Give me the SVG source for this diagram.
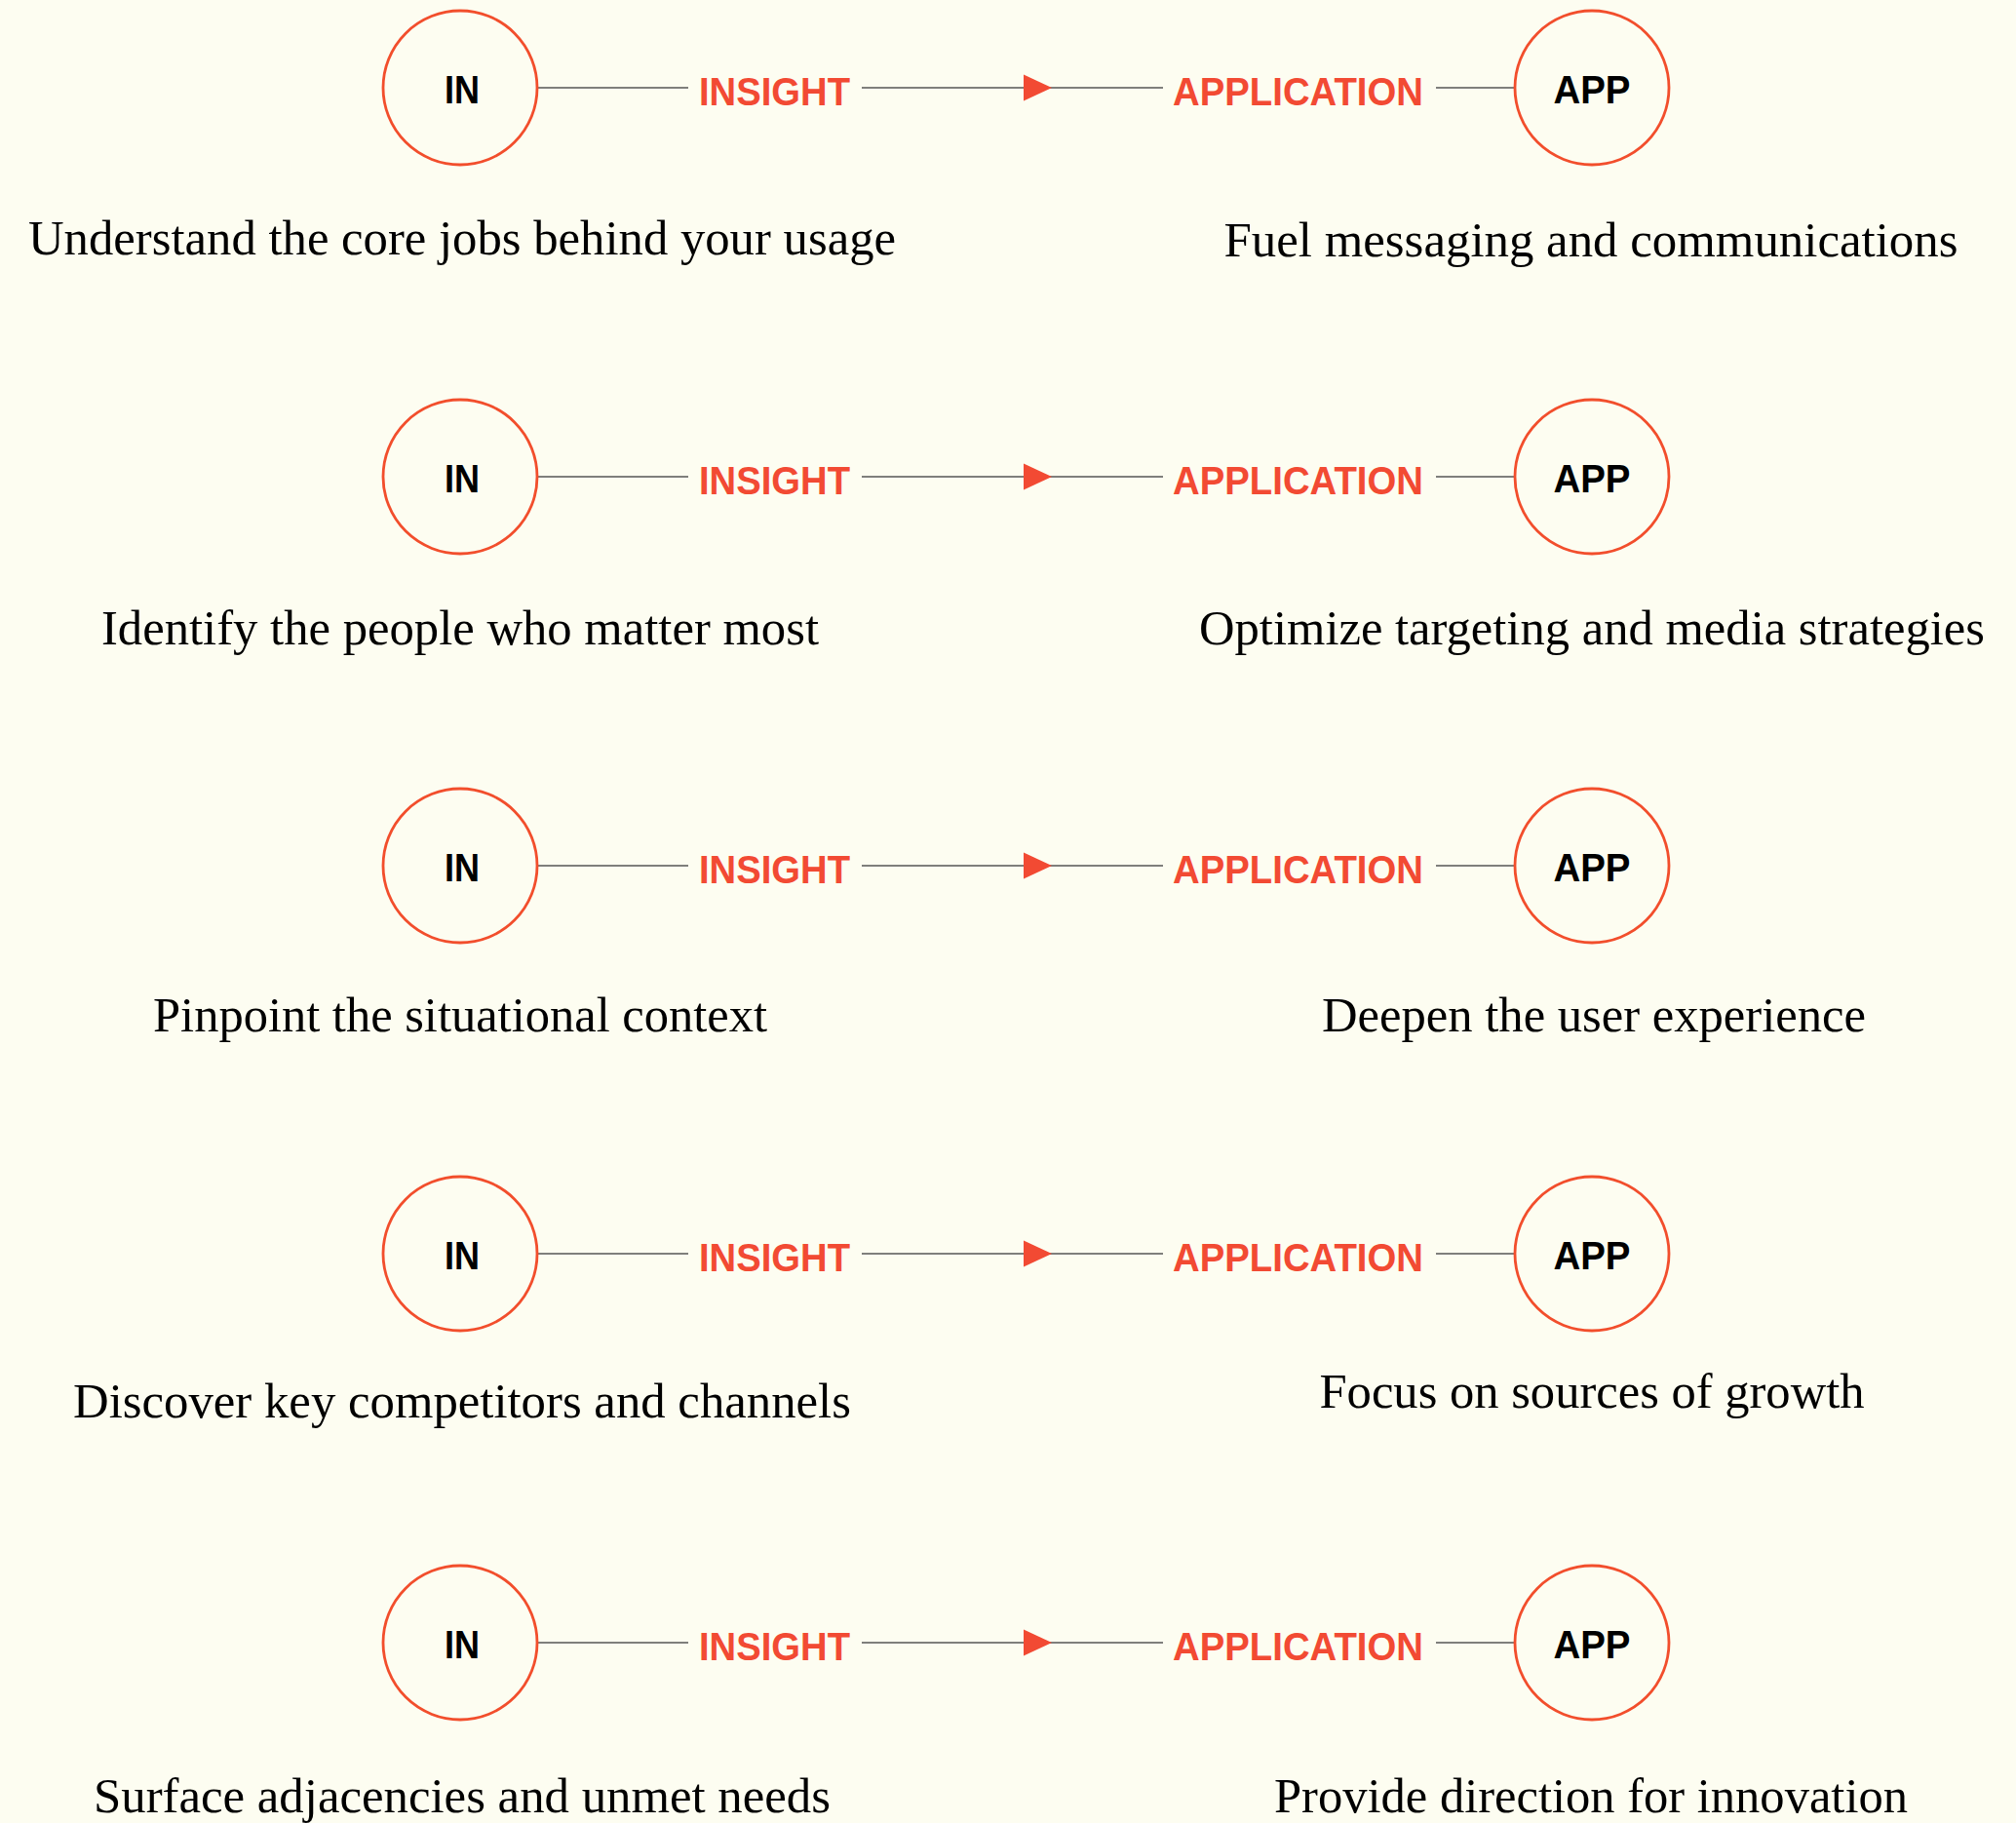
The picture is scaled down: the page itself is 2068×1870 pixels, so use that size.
<svg xmlns="http://www.w3.org/2000/svg" width="2068" height="1870" viewBox="0 0 2068 1870">
<style>
.bg{fill:#FDFDF1}
.node{fill:none;stroke:#F24E2C;stroke-width:2.8}
.nl{font-family:"Liberation Sans",Arial,sans-serif;font-weight:bold;font-size:40px;fill:#000;text-anchor:middle}
.el{font-family:"Liberation Sans",Arial,sans-serif;font-weight:bold;font-size:40px;fill:#F24A33;text-anchor:middle}
.desc{font-family:"Liberation Serif","Times New Roman",serif;font-size:51px;fill:#000;text-anchor:middle}
.ln{stroke:#555;stroke-width:1.6;fill:none}
.ah{fill:#F24A33}
</style>
<rect class="bg" x="0" y="0" width="2068" height="1870"/>
<g id="connectors">
  <g transform="translate(0,90)">
    <line class="ln" x1="552" y1="0" x2="706" y2="0"/><line class="ln" x1="884" y1="0" x2="1193" y2="0"/><line class="ln" x1="1473" y1="0" x2="1554" y2="0"/>
    <polygon class="ah" points="1050,-13.5 1079,0 1050,13.5"/>
    <text class="el" x="794.5" y="18" textLength="155" lengthAdjust="spacingAndGlyphs">INSIGHT</text>
    <text class="el" x="1331.5" y="18" textLength="257" lengthAdjust="spacingAndGlyphs">APPLICATION</text>
  </g>
  <g transform="translate(0,489)">
    <line class="ln" x1="552" y1="0" x2="706" y2="0"/><line class="ln" x1="884" y1="0" x2="1193" y2="0"/><line class="ln" x1="1473" y1="0" x2="1554" y2="0"/>
    <polygon class="ah" points="1050,-13.5 1079,0 1050,13.5"/>
    <text class="el" x="794.5" y="18" textLength="155" lengthAdjust="spacingAndGlyphs">INSIGHT</text>
    <text class="el" x="1331.5" y="18" textLength="257" lengthAdjust="spacingAndGlyphs">APPLICATION</text>
  </g>
  <g transform="translate(0,888)">
    <line class="ln" x1="552" y1="0" x2="706" y2="0"/><line class="ln" x1="884" y1="0" x2="1193" y2="0"/><line class="ln" x1="1473" y1="0" x2="1554" y2="0"/>
    <polygon class="ah" points="1050,-13.5 1079,0 1050,13.5"/>
    <text class="el" x="794.5" y="18" textLength="155" lengthAdjust="spacingAndGlyphs">INSIGHT</text>
    <text class="el" x="1331.5" y="18" textLength="257" lengthAdjust="spacingAndGlyphs">APPLICATION</text>
  </g>
  <g transform="translate(0,1286)">
    <line class="ln" x1="552" y1="0" x2="706" y2="0"/><line class="ln" x1="884" y1="0" x2="1193" y2="0"/><line class="ln" x1="1473" y1="0" x2="1554" y2="0"/>
    <polygon class="ah" points="1050,-13.5 1079,0 1050,13.5"/>
    <text class="el" x="794.5" y="18" textLength="155" lengthAdjust="spacingAndGlyphs">INSIGHT</text>
    <text class="el" x="1331.5" y="18" textLength="257" lengthAdjust="spacingAndGlyphs">APPLICATION</text>
  </g>
  <g transform="translate(0,1685)">
    <line class="ln" x1="552" y1="0" x2="706" y2="0"/><line class="ln" x1="884" y1="0" x2="1193" y2="0"/><line class="ln" x1="1473" y1="0" x2="1554" y2="0"/>
    <polygon class="ah" points="1050,-13.5 1079,0 1050,13.5"/>
    <text class="el" x="794.5" y="18" textLength="155" lengthAdjust="spacingAndGlyphs">INSIGHT</text>
    <text class="el" x="1331.5" y="18" textLength="257" lengthAdjust="spacingAndGlyphs">APPLICATION</text>
  </g>
</g>
<g id="in1"><circle class="node" cx="472" cy="90" r="79"/><text class="nl" x="474" y="106" textLength="36" lengthAdjust="spacingAndGlyphs">IN</text><text class="desc" x="474" y="261" textLength="890" lengthAdjust="spacingAndGlyphs">Understand the core jobs behind your usage</text></g>
<g id="app1"><circle class="node" cx="1633" cy="90" r="79"/><text class="nl" x="1633" y="106" textLength="79" lengthAdjust="spacingAndGlyphs">APP</text><text class="desc" x="1632" y="263" textLength="753" lengthAdjust="spacingAndGlyphs">Fuel messaging and communications</text></g>
<g id="in2"><circle class="node" cx="472" cy="489" r="79"/><text class="nl" x="474" y="505" textLength="36" lengthAdjust="spacingAndGlyphs">IN</text><text class="desc" x="472" y="661" textLength="736" lengthAdjust="spacingAndGlyphs">Identify the people who matter most</text></g>
<g id="app2"><circle class="node" cx="1633" cy="489" r="79"/><text class="nl" x="1633" y="505" textLength="79" lengthAdjust="spacingAndGlyphs">APP</text><text class="desc" x="1633" y="661" textLength="806" lengthAdjust="spacingAndGlyphs">Optimize targeting and media strategies</text></g>
<g id="in3"><circle class="node" cx="472" cy="888" r="79"/><text class="nl" x="474" y="904" textLength="36" lengthAdjust="spacingAndGlyphs">IN</text><text class="desc" x="472" y="1058" textLength="630" lengthAdjust="spacingAndGlyphs">Pinpoint the situational context</text></g>
<g id="app3"><circle class="node" cx="1633" cy="888" r="79"/><text class="nl" x="1633" y="904" textLength="79" lengthAdjust="spacingAndGlyphs">APP</text><text class="desc" x="1635" y="1058" textLength="558" lengthAdjust="spacingAndGlyphs">Deepen the user experience</text></g>
<g id="in4"><circle class="node" cx="472" cy="1286" r="79"/><text class="nl" x="474" y="1302" textLength="36" lengthAdjust="spacingAndGlyphs">IN</text><text class="desc" x="474" y="1454" textLength="798" lengthAdjust="spacingAndGlyphs">Discover key competitors and channels</text></g>
<g id="app4"><circle class="node" cx="1633" cy="1286" r="79"/><text class="nl" x="1633" y="1302" textLength="79" lengthAdjust="spacingAndGlyphs">APP</text><text class="desc" x="1633" y="1444" textLength="559" lengthAdjust="spacingAndGlyphs">Focus on sources of growth</text></g>
<g id="in5"><circle class="node" cx="472" cy="1685" r="79"/><text class="nl" x="474" y="1701" textLength="36" lengthAdjust="spacingAndGlyphs">IN</text><text class="desc" x="474" y="1859" textLength="756" lengthAdjust="spacingAndGlyphs">Surface adjacencies and unmet needs</text></g>
<g id="app5"><circle class="node" cx="1633" cy="1685" r="79"/><text class="nl" x="1633" y="1701" textLength="79" lengthAdjust="spacingAndGlyphs">APP</text><text class="desc" x="1632" y="1859" textLength="650" lengthAdjust="spacingAndGlyphs">Provide direction for innovation</text></g>
</svg>
